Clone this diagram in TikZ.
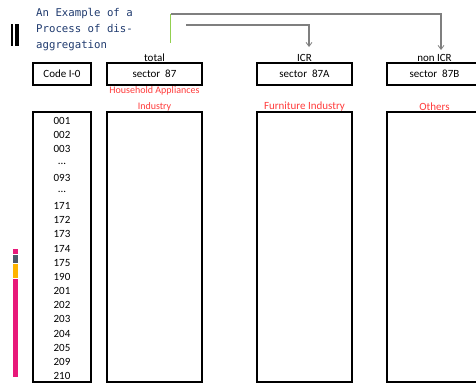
\documentclass[tikz,border=0pt]{standalone}
\usepackage{fontspec}
\setmainfont{Carlito}
\newfontfamily\titlefont{DejaVu Sans Mono}
\usetikzlibrary{arrows.meta}
\definecolor{titleblue}{HTML}{1F3A6E}
\definecolor{labred}{HTML}{FF3B3B}
\definecolor{linegray}{HTML}{7F7F7F}
\definecolor{greenln}{HTML}{92D050}
\definecolor{barpink}{HTML}{E8197A}
\definecolor{bargray}{HTML}{4D5A6B}
\definecolor{baryellow}{HTML}{FFB400}
\newcommand{\mydots}{...}
\tikzset{
  box/.style={draw=black, line width=1.1pt, inner sep=0pt, font=\fontsize{11}{13}\selectfont},
  hdr/.style={inner sep=0pt, font=\fontsize{11}{13}\selectfont},
  redlab/.style={inner sep=0pt, text=labred, font=\fontsize{11}{13}\selectfont},
  redsmall/.style={inner sep=0pt, text=labred, font=\fontsize{10}{12}\selectfont},
  titletxt/.style={inner sep=0pt, anchor=base west, text=titleblue, font=\titlefont\fontsize{10.7}{16}\selectfont},
  num/.style={inner sep=0pt, font=\fontsize{11}{13}\selectfont},
  conn/.style={draw=linegray, line width=1.2pt, -{Straight Barb[length=4pt,width=6pt,line width=0.8pt]}}
}
\begin{document}
\begin{tikzpicture}[x=1pt,y=-1pt]
\useasboundingbox (0,0) rectangle (476,384);
\clip (0,0) rectangle (476,384);
% title
\node[titletxt] (t1) at (36,16) {An Example of a};
\node[titletxt] (t2) at (36,32) {Process of dis-};
\node[titletxt] (t3) at (36,48) {aggregation};
% left black bars
\fill[black] (11,24) rectangle (13.2,46);
\fill[black] (14.6,24) rectangle (18.6,46);
% colour bar
\fill[barpink] (12.8,249) rectangle (17.8,254);
\fill[bargray] (12.8,255) rectangle (17.8,262.8);
\fill[baryellow] (12.8,264) rectangle (17.8,277.8);
\fill[barpink] (12.8,279) rectangle (17.8,377);
% header labels
\node[hdr] (total) at (154.5,57.5) {total};
\node[hdr] (icr) at (304.5,57.5) {ICR};
\node[hdr] (nonicr) at (434.5,57.5) {non ICR};
% top boxes
\node[box, minimum width=58pt, minimum height=22pt] (code) at (62,74) {Code I-0};
\node[box, minimum width=95pt, minimum height=22pt] (s87) at (154.5,74) {sector\ \ 87};
\node[box, minimum width=95pt, minimum height=22pt] (s87a) at (304.5,74) {sector\ \ 87A};
\node[box, minimum width=95pt, minimum height=22pt] (s87b) at (434.5,74) {sector\ \ 87B};
% red labels
\node[redsmall] (ha1) at (154.5,91.3) {Household Appliances};
\node[redsmall] (ha2) at (154.5,106.7) {Industry};
\node[redlab] (furn) at (304.5,106.5) {Furniture Industry};
\node[redlab] (oth) at (434.5,106.5) {Others};
% big boxes
\node[box, minimum width=58pt, minimum height=270pt] (codecol) at (62,247) {};
\node[box, minimum width=95pt, minimum height=270pt] (c87) at (154.5,247) {};
\node[box, minimum width=95pt, minimum height=270pt] (c87a) at (304.5,247) {};
\node[box, minimum width=95pt, minimum height=270pt] (c87b) at (434.5,247) {};
% codes
\foreach \t [count=\i from 0] in {001,002,003,\mydots,093,\mydots,171,172,173,174,175,190,201,202,203,204,205,209,210}
  \node[num] (n\i) at (62,121+14.17*\i) {\t};
% connectors
\coordinate (g1) at (170.5,14);
\coordinate (g2) at (170.5,43);
\coordinate (h1) at (186,25);
\coordinate (e1) at (441,50);
\coordinate (e2) at (309,47);
\draw[greenln, line width=1.3pt] (g1) -- (g2);
\draw[conn] (g1) -| (e1);
\draw[conn] (h1) -| (e2);
\end{tikzpicture}
\end{document}
